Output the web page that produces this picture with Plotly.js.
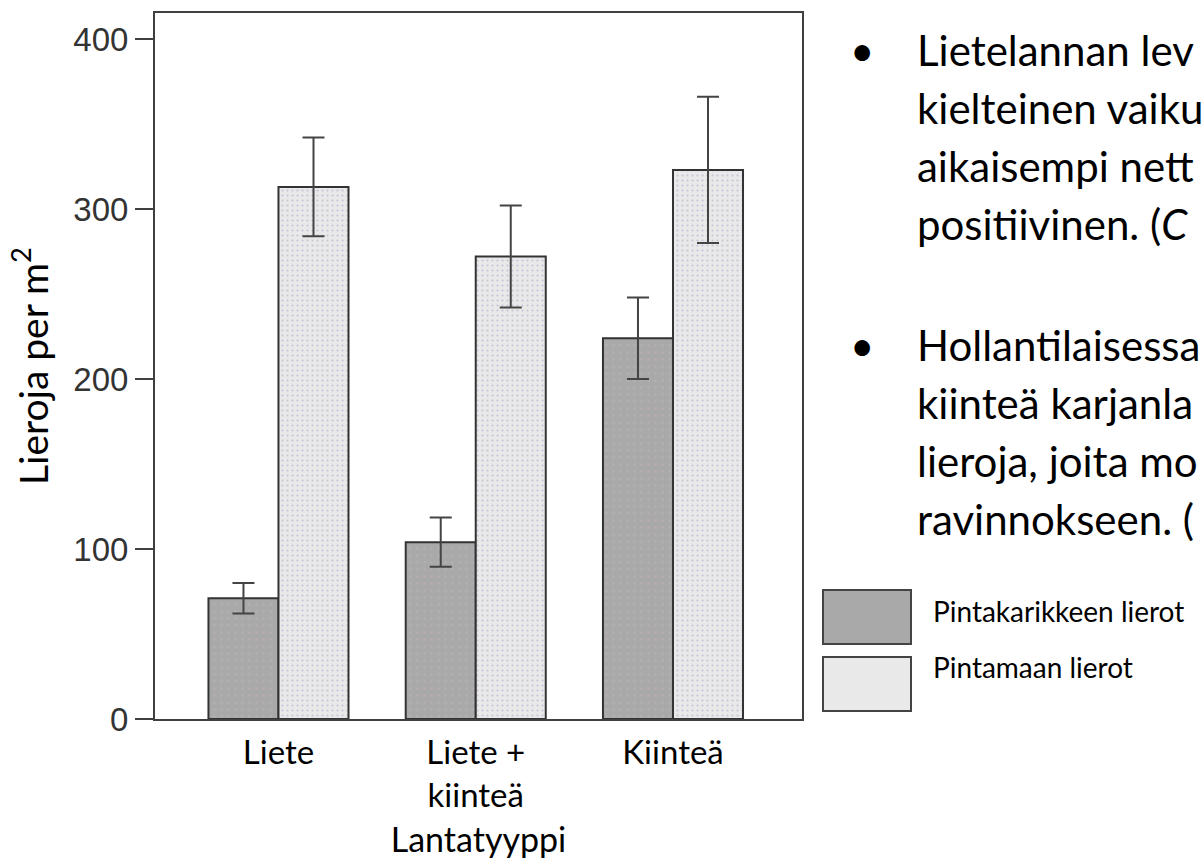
<!DOCTYPE html>
<html>
<head>
<meta charset="utf-8">
<script src="https://cdn.plot.ly/plotly-3.0.1.min.js"></script>
<style>
html,body{margin:0;padding:0;background:#fff;}
#chart{width:1203px;height:862px;}
</style>
</head>
<body>
<div id="chart"></div>
<script>
// ---- data ----
const categories = ["Liete", "Liete +<br>kiinteä", "Kiinteä"];
const seriesNames = ["Pintakarikkeen lierot", "Pintamaan lierot"];
const surfaceLitter = [71, 104, 224];      // Pintakarikkeen lierot
const surfaceLitterErr = [9, 14.5, 24];
const topSoil = [313, 272, 323];           // Pintamaan lierot
const topSoilErr = [29, 30, 43];
const yTicks = [0, 100, 200, 300, 400];
const bulletLines1 = ["Lietelannan lev", "kielteinen vaiku", "aikaisempi nett", "positiivinen. (<i>C</i>"];
const bulletLines2 = ["Hollantilaisessa", "kiinteä karjanla", "lieroja, joita mo", "ravinnokseen. ("];

// ---- layout helpers (pixel -> paper) ----
const L = 155, R = 802, T = 13, B = 719;
const px = x => (x - L) / (R - L);
const py = y => (B - y) / (B - T);

const calib = "Lato, 'Open Sans', sans-serif";
const axisCol = "#404040";

const traces = [
  {
    type: "bar", name: seriesNames[0], x: categories, y: surfaceLitter,
    marker: {color: "#a9a9a9", line: {color: "#333", width: 2},
             pattern: {shape: ".", bgcolor: "#a9a9a9", fgcolor: "#b8aeb6", size: 7, solidity: 0.1, fillmode: "replace"}},
    error_y: {type: "data", array: surfaceLitterErr, visible: true, color: "#444", thickness: 2, width: 11},
    showlegend: false, hoverinfo: "skip"
  },
  {
    type: "bar", name: seriesNames[1], x: categories, y: topSoil,
    marker: {color: "#e9e9e9", line: {color: "#333", width: 2},
             pattern: {shape: ".", bgcolor: "#e9e9e9", fgcolor: "#c9c3d8", size: 5, solidity: 0.15, fillmode: "replace"}},
    error_y: {type: "data", array: topSoilErr, visible: true, color: "#444", thickness: 2, width: 11},
    showlegend: false, hoverinfo: "skip"
  }
];

const annotations = [];
const shapes = [];
const bulletFont = {family: calib, size: 42, color: "#000"};
function addParagraph(lines, startY) {
  annotations.push({xref: "paper", yref: "paper", x: px(862), y: py(startY), text: "•",
    showarrow: false, xanchor: "center", yanchor: "middle", font: bulletFont});
  lines.forEach((t, i) => {
    annotations.push({xref: "paper", yref: "paper", x: px(915), y: py(startY + i * 58), text: t,
      showarrow: false, xanchor: "left", yanchor: "middle", font: bulletFont});
  });
}
addParagraph(bulletLines1, 50);
addParagraph(bulletLines2, 345);

// custom legend boxes
const legendBoxes = [
  {fill: "#a9a9a9", y0: 590, y1: 644, textY: 611},
  {fill: "#e9e9e9", y0: 657, y1: 711, textY: 667}
];
legendBoxes.forEach((b, i) => {
  shapes.push({type: "rect", xref: "paper", yref: "paper", x0: px(823), x1: px(911), y0: py(b.y1), y1: py(b.y0),
    fillcolor: b.fill, line: {color: "#444", width: 2}});
  annotations.push({xref: "paper", yref: "paper", x: px(931), y: py(b.textY), text: seriesNames[i],
    showarrow: false, xanchor: "left", yanchor: "middle", font: {family: calib, size: 28, color: "#000"}});
});

const layout = {
  width: 1203, height: 862,
  margin: {l: L, r: 1203 - R, t: T, b: 862 - B, pad: 0},
  paper_bgcolor: "#fff", plot_bgcolor: "#fff",
  barmode: "group", bargap: 0.29, bargroupgap: 0,
  showlegend: false,
  xaxis: {
    type: "category", range: [-0.626, 2.654], showline: true, mirror: true,
    linecolor: axisCol, linewidth: 2, ticks: "", showgrid: false, zeroline: false,
    tickfont: {family: calib, size: 33, color: "#000"}, ticklabelstandoff: 3,
    title: {text: "Lantatyyppi", font: {family: calib, size: 34, color: "#000"}, standoff: 16},
    automargin: false, fixedrange: true
  },
  yaxis: {
    range: [0, 415.3], tickvals: yTicks, ticktext: yTicks.map(String),
    showline: true, mirror: true, linecolor: axisCol, linewidth: 2,
    ticks: "outside", ticklen: 18, tickwidth: 2, tickcolor: axisCol,
    showgrid: false, zeroline: false,
    tickfont: {family: "'Liberation Sans', Arial, sans-serif", size: 33, color: "#333"},
    title: {text: "Lieroja per m<sup>2</sup>", font: {family: calib, size: 39, color: "#000"}, standoff: 13},
    automargin: false, fixedrange: true
  },
  annotations: annotations,
  shapes: shapes
};

Plotly.newPlot("chart", traces, layout, {staticPlot: true, displayModeBar: false});
</script>
</body>
</html>
